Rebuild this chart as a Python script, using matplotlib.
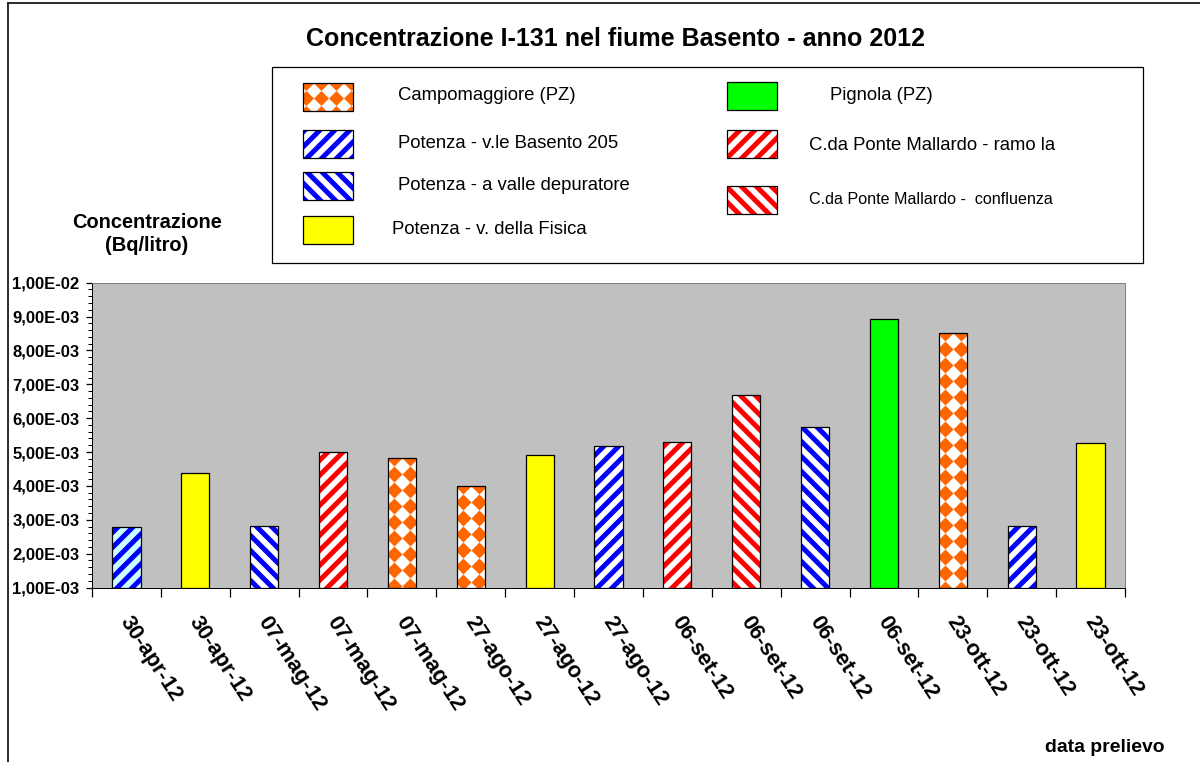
import numpy as np
import matplotlib.pyplot as plt
from matplotlib.patches import Rectangle
from matplotlib.transforms import IdentityTransform, ScaledTranslation
from matplotlib.ticker import FuncFormatter

plt.rcParams['font.family'] = ['Liberation Sans', 'DejaVu Sans']
plt.rcParams['hatch.linewidth'] = 4.0

# campioni: data di prelievo, stazione, concentrazione I-131 (Bq/litro)
dates = ['30-apr-12', '30-apr-12', '07-mag-12', '07-mag-12', '07-mag-12',
         '27-ago-12', '27-ago-12', '27-ago-12', '06-set-12', '06-set-12',
         '06-set-12', '06-set-12', '23-ott-12', '23-ott-12', '23-ott-12']
stations = ['basento', 'fisica', 'valle', 'ramo', 'campo',
            'campo', 'fisica', 'basento', 'ramo', 'confl',
            'valle', 'pignola', 'campo', 'basento', 'fisica']
conc = [2.78e-3, 4.39e-3, 2.81e-3, 5.00e-3, 4.81e-3,
        4.01e-3, 4.91e-3, 5.19e-3, 5.31e-3, 6.69e-3,
        5.73e-3, 8.94e-3, 8.52e-3, 2.83e-3, 5.28e-3]

names = {
    'campo': 'Campomaggiore (PZ)',
    'basento': 'Potenza - v.le Basento 205',
    'valle': 'Potenza - a valle depuratore',
    'fisica': 'Potenza - v. della Fisica',
    'pignola': 'Pignola (PZ)',
    'ramo': 'C.da Ponte Mallardo - ramo la',
    'confl': 'C.da Ponte Mallardo -  confluenza',
}

# tipo di riempimento, colore, tratteggio
styles = {
    'campo': ('diamond', '#FF6600', None),
    'basento': ('hatch', '#0000FF', '//'),
    'valle': ('hatch', '#0000FF', '\\\\'),
    'fisica': ('solid', '#FFFF00', None),
    'pignola': ('solid', '#00FF00', None),
    'ramo': ('hatch', '#FF0000', '//'),
    'confl': ('hatch', '#FF0000', '\\\\'),
}
face_override = {0: '#CCFFFF'}

W, H, DPI = 1200, 762, 90
ymin, ymax = 1e-3, 1e-2


def diamond_fill(axis, patch, color, period):
    # rombi pieni a scacchiera, ritagliati sul rettangolo
    bb = patch.get_window_extent()
    cx = 0.5 * (bb.x0 + bb.x1)
    cols = cx + period * (np.arange(-4, 4) + 0.5)
    rows = np.arange(bb.y1, bb.y0 - period, -period)
    xx, yy = np.meshgrid(cols, rows)
    ms = (period / 2) * 72 / DPI / 0.7071
    sc = axis.scatter(xx.ravel(), yy.ravel(), s=ms ** 2, marker='D',
                      color=color, linewidths=0, transform=IdentityTransform(),
                      zorder=patch.get_zorder() + 0.1)
    sc.set_clip_path(patch)


fig = plt.figure(figsize=(W / DPI, H / DPI), dpi=DPI)
ax = fig.add_axes([92 / W, 1 - 587.5 / H, 1033 / W, 304.8 / H])
ax.set_facecolor('#C0C0C0')
ax.set_xlim(-0.5, len(conc) - 0.5)
ax.set_ylim(ymin, ymax)

x = np.arange(len(conc))
bw = 0.41
for i, (st, v) in enumerate(zip(stations, conc)):
    kind, col, hat = styles[st]
    face = face_override.get(i, 'white')
    if kind == 'solid':
        ax.bar(x[i], v - ymin, bw, bottom=ymin, color=col,
               edgecolor='black', linewidth=1, zorder=2)
        continue
    if kind == 'hatch':
        ax.bar(x[i], v - ymin, bw, bottom=ymin, facecolor=face,
               edgecolor=col, hatch=hat, linewidth=0, zorder=2)
    else:
        base = ax.bar(x[i], v - ymin, bw, bottom=ymin, facecolor=face,
                      linewidth=0, zorder=2)[0]
        diamond_fill(ax, base, col, 16)
    ax.bar(x[i], v - ymin, bw, bottom=ymin, fill=False,
           edgecolor='black', linewidth=1, zorder=3)

ax.set_yticks(np.arange(1, 11) * 1e-3)
ax.set_yticks(np.arange(10, 101, 2) * 1e-4, minor=True)
ax.yaxis.set_major_formatter(FuncFormatter(lambda v, p: f'{v:.2E}'.replace('.', ',')))
ax.tick_params(axis='y', which='major', length=5, width=1, labelsize=13.3, pad=5)
ax.tick_params(axis='y', which='minor', length=3.5, width=0.8)
for lab in ax.get_yticklabels():
    lab.set_fontweight('bold')

ax.set_xticks(np.arange(-0.5, len(conc), 1))
ax.set_xticklabels([])
ax.tick_params(axis='x', which='major', length=7, width=1)
ax.tick_params(axis='x', which='minor', length=0, pad=20)
ax.set_xticks(x, dates, minor=True, rotation=-57, ha='left', va='top',
              rotation_mode='anchor', fontweight='bold', fontsize=17.5)
shift = ScaledTranslation(7 / DPI, 0, fig.dpi_scale_trans)
for lab in ax.get_xticklabels(minor=True):
    lab.set_transform(lab.get_transform() + shift)

for side in ('top', 'right'):
    ax.spines[side].set_color('#808080')
for side in ('left', 'bottom'):
    ax.spines[side].set_color('black')

# titolo, legenda e cornice in coordinate pixel
ov = fig.add_axes([0, 0, 1, 1])
ov.set_xlim(0, W)
ov.set_ylim(H, 0)
ov.axis('off')

ov.plot([8, 8], [H, 3], color='#222222', lw=1.5, clip_on=False)
ov.plot([8, W], [3, 3], color='#222222', lw=1.5, clip_on=False)

ov.text(615, 39, 'Concentrazione I-131 nel fiume Basento - anno 2012',
        ha='center', va='center', fontsize=20, fontweight='bold')
ov.text(147, 234, 'Concentrazione\n(Bq/litro)', ha='center', va='center',
        fontsize=16, fontweight='bold', linespacing=1.25)
ov.text(1105, 748, 'data prelievo', ha='center', va='center',
        fontsize=15.5, fontweight='bold')

ov.add_patch(Rectangle((272, 67), 871, 196, fill=False, ec='black', lw=1))

legend_rows = [
    ('campo', 303, 83, 398, 96, 14.8),
    ('basento', 303, 130, 398, 144, 14.8),
    ('valle', 303, 172, 398, 185, 14.8),
    ('fisica', 303, 216, 392, 229, 14.8),
    ('pignola', 727, 82, 830, 95, 14.8),
    ('ramo', 727, 130, 809, 145, 14.8),
    ('confl', 727, 186, 809, 200, 12.9),
]
for key, sx, sy, tx, ty, fs in legend_rows:
    kind, col, hat = styles[key]
    if kind == 'solid':
        ov.add_patch(Rectangle((sx, sy), 50, 28, facecolor=col,
                               edgecolor='black', lw=1))
    else:
        if kind == 'hatch':
            ov.add_patch(Rectangle((sx, sy), 50, 28, facecolor='white',
                                   edgecolor=col, hatch=hat, lw=0))
        else:
            base = Rectangle((sx, sy), 50, 28, facecolor='white', lw=0)
            ov.add_patch(base)
            diamond_fill(ov, base, col, 15)
        ov.add_patch(Rectangle((sx, sy), 50, 28, fill=False,
                               edgecolor='black', lw=1, zorder=3))
    ov.text(tx, ty, names[key], ha='left', va='center', fontsize=fs)

fig.savefig('out.png', dpi=DPI, facecolor='white')
